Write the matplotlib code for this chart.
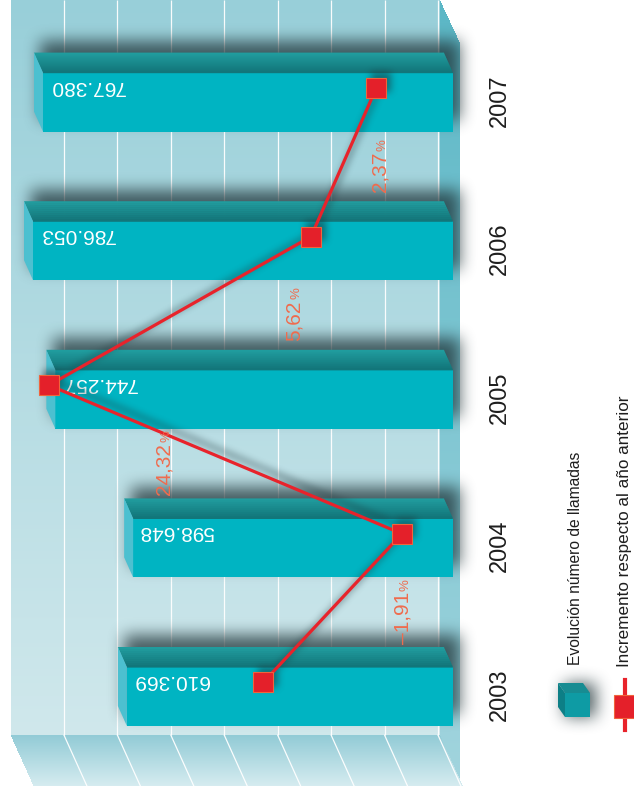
import numpy as np
import matplotlib
matplotlib.use('Agg')
import matplotlib.pyplot as plt
from matplotlib import transforms, font_manager
from matplotlib.patches import Polygon, Rectangle
from matplotlib.lines import Line2D

# --- data ---
years = ['2003', '2004', '2005', '2006', '2007']
calls = [610369, 598648, 744257, 786053, 767380]
# red line: where each marker sits on its own % scale
line_pos = [8.4, -1.91, 24.32, 4.85, 0.0]
pct_text = ['', '-1,91', '24,32', '5,62', '2,37']
grid_vals = [0, 100000, 200000, 300000, 400000, 500000, 600000, 700000]
legend_labels = ['Evolución número de llamadas', 'Incremento respecto al año anterior']

W, H = 634, 796
TEAL = '#00b4c2'
RED = '#e4202a'
SALMON = '#ef6c4e'

names = {f.name for f in font_manager.fontManager.ttflist}
NARROW = 'Liberation Sans Narrow' if 'Liberation Sans Narrow' in names else 'Liberation Sans'
plt.rcParams['font.family'] = ['Liberation Sans', 'DejaVu Sans']

fig = plt.figure(figsize=(W / 100, H / 100), dpi=100)
ax = fig.add_axes([0, 0, 1, 1])
XL = (847840, -338760)
YL = (-0.6696, 4.687)
ax.set_xlim(XL)
ax.set_ylim(YL)
ax.axis('off')
ax2 = ax.twiny()
PL = (27.96, -19.15)
ax2.set_xlim(PL)
ax2.set_ylim(YL)
ax2.axis('off')

idx = np.arange(len(years))
BAR_H = 0.397
DEPTH = (-9, -20)        # bar depth in pixels (image coords, y down)
ident = transforms.IdentityTransform()


def img_xy(a, x, y):
    X, Y = a.transData.transform((x, y))
    return X, H - Y


def poly(pts, **kw):
    ax.add_patch(Polygon([(x, H - y) for x, y in pts], closed=True,
                         transform=ident, **kw))


def hexrgb(c):
    return np.array(matplotlib.colors.to_rgb(c))


def blur(a, r, n=3):
    for _ in range(n):
        p = np.pad(a, [(r + 1, r), (0, 0)], mode='edge')
        c = np.cumsum(p, axis=0)
        a = (c[2 * r + 1:] - c[:-2 * r - 1]) / (2 * r + 1)
        p = np.pad(a, [(0, 0), (r + 1, r)], mode='edge')
        c = np.cumsum(p, axis=1)
        a = (c[:, 2 * r + 1:] - c[:, :-2 * r - 1]) / (2 * r + 1)
    return a


# --- frame: back wall, side strip, floor ---
x0 = img_xy(ax, 0, 0)[0]
wall_left = img_xy(ax, 800000, 0)[0] - 15
wall_right = x0 - 13
y_wall = img_xy(ax, 0, -0.26)[1]
FD = (23, 51)   # floor depth
SD = (20, 43)   # side strip depth

yy, xx = np.mgrid[0:H, 0:W] + 0.5
bg = np.zeros((H, W, 4))


def paint(mask, c0, c1, t):
    t = np.clip(t, 0, 1)[..., None]
    col = hexrgb(c0) * (1 - t) + hexrgb(c1) * t
    bg[mask, :3] = col[mask]
    bg[mask, 3] = 1


wall = (xx >= wall_left) & (xx < wall_right) & (yy < y_wall)
paint(wall, '#98cfd9', '#d0e8ec', yy / y_wall)
floor = ((yy >= y_wall) & (yy < y_wall + FD[1])
         & (xx >= wall_left + (yy - y_wall) * FD[0] / FD[1])
         & (xx < wall_right + (yy - y_wall) * FD[0] / FD[1]))
paint(floor, '#92cbd6', '#d6ecf0', (yy - y_wall) / FD[1])
strip = ((xx >= wall_right) & (xx < wall_right + SD[0])
         & (yy >= (xx - wall_right) * SD[1] / SD[0])
         & (yy < y_wall + (xx - wall_right) * FD[1] / FD[0]))
paint(strip, '#5bb7c6', '#a3d5de', yy / H)

ax.imshow(bg, extent=(*XL, *YL), origin='upper', aspect='auto',
          interpolation='nearest', zorder=0)

back = transforms.offset_copy(ax.transData, fig, x=-15, y=0, units='dots')
ax.vlines(grid_vals, -0.26, YL[1], colors='white', lw=0.9, alpha=0.95,
          transform=back, zorder=1)
for v in grid_vals:
    gx = img_xy(ax, v, 0)[0] - 15
    ax.add_line(Line2D([gx, gx + FD[0]], [H - y_wall, H - y_wall - FD[1]],
                       color='white', lw=0.9, alpha=0.95, transform=ident, zorder=1))

# --- shadows (bars + legend cube) ---
shadow = np.zeros((H, W))
bar_geo = []
for i, v in zip(idx, calls):
    xl = img_xy(ax, v, i)[0]
    yt = img_xy(ax, 0, i + BAR_H / 2)[1]
    yb = img_xy(ax, 0, i - BAR_H / 2)[1]
    bar_geo.append((xl, x0, yt, yb))
    sx, sy = 7, -11
    shadow[int(yt + DEPTH[1] + sy):int(yb + sy), int(xl + DEPTH[0] + sx):int(x0 + sx)] = 1

# legend cube geometry (pixels)
cube = (565, 590, 693, 717)
cd = (-7, -10)
shadow[cube[2] + cd[1]:cube[3], cube[0] + cd[0] + 6:cube[1] + 6] = 1

shadow = blur(shadow, 7)
sh = np.zeros((H, W, 4))
sh[..., :3] = hexrgb('#1e3236')
sh[..., 3] = np.clip(shadow * 0.75, 0, 1)
ax.imshow(sh, extent=(*XL, *YL), origin='upper', aspect='auto',
          interpolation='bilinear', zorder=3)

# --- bars ---
ax.barh(idx, calls, height=BAR_H, left=0, color=TEAL, zorder=5)
c_back, c_front = hexrgb('#22a0a2'), hexrgb('#12767a')
for xl, xr, yt, yb in bar_geo:
    n = 10
    for k in range(n):
        f0, f1 = k / n, (k + 1) / n
        d0 = (DEPTH[0] * (1 - f0), DEPTH[1] * (1 - f0))
        d1 = (DEPTH[0] * (1 - f1), DEPTH[1] * (1 - f1))
        col = c_back * (1 - f1) + c_front * f1
        poly([(xl + d0[0], yt + d0[1]), (xr + d0[0], yt + d0[1]),
              (xr + d1[0], yt + d1[1] + 0.6), (xl + d1[0], yt + d1[1] + 0.6)],
             facecolor=col, edgecolor='none', zorder=5)
    poly([(xl, yt), (xl, yb), (xl + DEPTH[0], yb + DEPTH[1]), (xl + DEPTH[0], yt + DEPTH[1])],
         facecolor='#4cc0d0', edgecolor='none', zorder=5)

for i, v in zip(idx, calls):
    ax.annotate(f'{v:,}'.replace(',', '.'), xy=(v, i + 0.108), xytext=(6, 0),
                textcoords='offset pixels', rotation=180, ha='left', va='center',
                color='white', fontsize=15, zorder=7)

# --- years ---
yr_tr = transforms.blended_transform_factory(ax.transAxes, ax.transData)
for i, y in zip(idx, years):
    ax.text(500 / W, i + 0.012, y, rotation=90, ha='center', va='center',
            fontsize=17, color='#1e1e1e', transform=yr_tr, zorder=7)

# --- red line, its shadow ---
line_y = idx + 0.095
lsh = np.zeros((H, W))
pts = [img_xy(ax2, p, y) for p, y in zip(line_pos, line_y)]
for (ax_, ay_), (bx_, by_) in zip(pts[:-1], pts[1:]):
    for t in np.linspace(0, 1, 600):
        px = int(ax_ + (bx_ - ax_) * t + 5)
        py = int(ay_ + (by_ - ay_) * t - 5)
        lsh[py - 1:py + 2, px - 1:px + 2] = 1
for px, py in pts:
    lsh[int(py - 10 - 5):int(py + 10 - 5), int(px - 10 + 5):int(px + 10 + 5)] = 1
lsh = blur(lsh, 3)
lsi = np.zeros((H, W, 4))
lsi[..., :3] = hexrgb('#1e3236')
lsi[..., 3] = np.clip(lsh * 0.55, 0, 1)
ax2.imshow(lsi, extent=(*PL, *YL), origin='upper', aspect='auto',
           interpolation='bilinear', zorder=4)
ax2.set_xlim(PL)
ax2.set_ylim(YL)

ax2.plot(line_pos, line_y, color='#e8232b', lw=2.3, marker='s', ms=14.4,
         mfc=RED, mec='#f0643c', mew=0.8, zorder=6)

# --- % labels ---
pct_x = [None, -2.43, 15.33, 5.68, -0.72]
pct_objs = []
for i in range(1, len(years)):
    yc = i - 0.5 + 0.07
    tn = ax2.text(pct_x[i], yc, pct_text[i].replace('-', '\u2013'), rotation=90,
                  rotation_mode='anchor', ha='left', va='baseline', fontsize=15,
                  color=SALMON, zorder=8)
    tp = ax2.text(pct_x[i], yc, '%', rotation=90, rotation_mode='anchor',
                  ha='left', va='baseline', fontsize=9.5, color=SALMON, zorder=8)
    pct_objs.append((tn, tp, yc))

# --- legend ---
c0, c1, t0, t1 = cube
poly([(c0 + cd[0], t0 + cd[1]), (c1 + cd[0], t0 + cd[1]), (c1, t0), (c0, t0)],
     facecolor='#178c92', edgecolor='none', zorder=8)
poly([(c0 + cd[0], t0 + cd[1]), (c0, t0), (c0, t1), (c0 + cd[0], t1 + cd[1])],
     facecolor='#0d7f86', edgecolor='none', zorder=8)
poly([(c0, t0), (c1, t0), (c1, t1), (c0, t1)],
     facecolor='#0e9ba4', edgecolor='none', zorder=8)
ax.add_line(Line2D([625, 625], [H - 680, H - 730], color='#e8232b', lw=3,
                   transform=ident, zorder=8))
ax.add_patch(Rectangle((614, H - 718), 22, 23, facecolor=RED, edgecolor='#f0643c',
                       lw=0.8, transform=ident, zorder=9))

leg_x = [575, 624]
leg_y0 = [665, 667]
leg_len = [215, 272]
leg_objs = []
for lab, lx, ly in zip(legend_labels, leg_x, leg_y0):
    leg_objs.append(fig.text(lx / W, (H - ly) / H, lab, rotation=90, ha='center',
                             va='bottom', fontsize=12, color='#1e1e1e',
                             family=[NARROW, 'DejaVu Sans']))

fig.canvas.draw()
r = fig.canvas.get_renderer()
inv = ax2.transData.inverted()
for tn, tp, yc in pct_objs:
    hn = tn.get_window_extent(r).height
    hp = tp.get_window_extent(r).height
    X, Y = ax2.transData.transform((tn.get_position()[0], yc))
    ys = Y - (hn + hp) / 2
    tn.set_position(inv.transform((X, ys)))
    tp.set_position(inv.transform((X, ys + hn + 1)))
for t, L in zip(leg_objs, leg_len):
    h = t.get_window_extent(r).height
    t.set_fontsize(12 * L / h)

fig.savefig('out.png', dpi=100)
